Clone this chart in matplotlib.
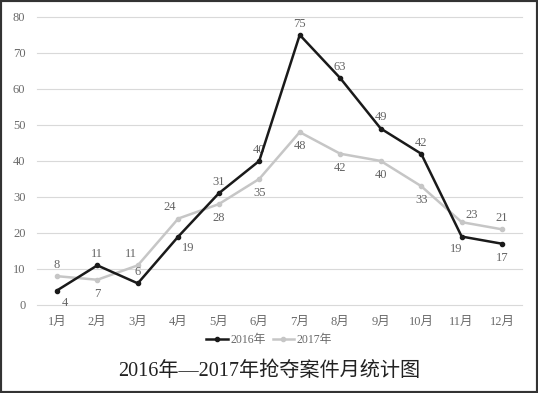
import matplotlib.pyplot as plt
from matplotlib.patches import Rectangle

months = ['1月', '2月', '3月', '4月', '5月', '6月', '7月', '8月', '9月', '10月', '11月', '12月']
cases_2016 = [4, 11, 6, 19, 31, 40, 75, 63, 49, 42, 19, 17]
cases_2017 = [8, 7, 11, 24, 28, 35, 48, 42, 40, 33, 23, 21]

# label offsets in points (dx, dy)
off_2016 = [(6, -9), (0, 8), (0, 8), (7, -8), (0, 8), (0, 8), (0, 8), (0, 8), (0, 8), (0, 8), (-4, -9), (0, -10)]
off_2017 = [(0, 8), (0, -10), (-5, 8), (-6, 8), (0, -10), (0, -10), (0, -10), (0, -10), (0, -10), (0, -10), (7, 5), (0, 8)]

fnt = ['Liberation Serif', 'Noto Sans CJK SC']
plt.rcParams['font.family'] = fnt

fig = plt.figure(figsize=(5.38, 3.93), dpi=100)
ax = fig.add_axes([0.068, 0.224, 0.903, 0.733])

x = list(range(len(months)))
ax.plot(x, cases_2017, color='#c6c6c6', lw=1.8, marker='o', ms=3, label='2017年', zorder=3)
ax.plot(x, cases_2016, color='#1a1a1a', lw=1.8, marker='o', ms=3, label='2016年', zorder=4)

for i in x:
    ax.annotate(str(cases_2016[i]), (i, cases_2016[i]), xytext=off_2016[i], textcoords='offset points',
                ha='center', va='center', fontsize=9, color='#636363')
    ax.annotate(str(cases_2017[i]), (i, cases_2017[i]), xytext=off_2017[i], textcoords='offset points',
                ha='center', va='center', fontsize=9, color='#636363')

ax.set_xlim(-0.5, 11.5)
ax.set_ylim(0, 80)
ax.set_yticks(range(0, 81, 10))
ax.set_xticks(x)
ax.set_xticklabels(months)
ax.tick_params(length=0, labelsize=9, colors='#6a6a6a', pad=8)
ax.grid(axis='y', color='#d9d9d9', lw=0.8)
for gl in ax.get_ygridlines():
    gl.set_clip_on(False)
ax.set_axisbelow(True)
for s in ax.spines.values():
    s.set_visible(False)

h, l = ax.get_legend_handles_labels()
fig.legend(h[::-1], l[::-1], loc='center', bbox_to_anchor=(0.5, 0.135), ncol=2, frameon=False,
           fontsize=8.5, handlelength=1.8, columnspacing=0.6, handletextpad=0.2, labelcolor='#6a6a6a')

fig.text(0.5, 0.055, '2016年—2017年抢夺案件月统计图', ha='center', va='center', fontsize=14.5, color='#222222')

fig.patches.append(Rectangle((0, 0), 1, 1, transform=fig.transFigure, fill=False, ec='#333333', lw=3))

fig.savefig('out.png', dpi=100)
